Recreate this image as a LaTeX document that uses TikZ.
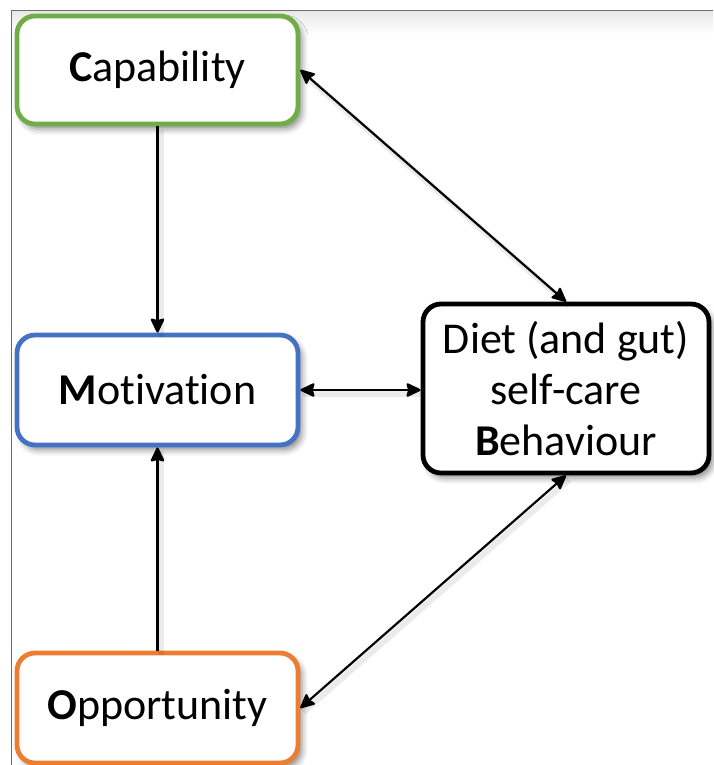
\documentclass[tikz,border=0pt]{standalone}
\usepackage{fontspec}
\setmainfont{Carlito}[Ligatures=NoCommon]
\usetikzlibrary{arrows.meta,shadows.blur}
\definecolor{capgreen}{HTML}{70AD47}
\definecolor{motblue}{HTML}{4472C4}
\definecolor{opporange}{HTML}{ED7D31}
\definecolor{framegray}{HTML}{6E6E6E}
\begin{document}
\begin{tikzpicture}[x=0.5pt,y=-0.5pt,
  box/.style={draw, line width=2.4pt, rounded corners=9pt, fill=white,
    minimum width=140.5pt, minimum height=55pt, inner sep=0pt, align=center,
    font=\fontsize{22}{25.5}\selectfont,
    blur shadow={shadow xshift=2pt, shadow yshift=-2.5pt,
      shadow blur radius=3pt, shadow opacity=45}},
  conn/.style={line width=1.1pt,
    >={Stealth[length=8pt,width=7.5pt,inset=1pt,round=false]}},
  oneway/.style={conn, ->},
  twoway/.style={conn, <->},
  connshadow/.style={draw=black, draw opacity=0.08, line width=3pt},
]
\useasboundingbox (0,0) rectangle (713,765);

% outer frame with a soft shade under its top edge
\shade[top color=black!9, bottom color=white] (12,11) rectangle (713,34);
\draw[framegray, line width=0.8pt] (11.5,765) -- (11.5,10.5) -- (713,10.5);

% COM-B components
\node[box, draw=capgreen, minimum height=54pt] (cap) at (157.5,70) {\textbf{C}apability};
\node[box, draw=motblue] (mot) at (157.5,390) {\textbf{M}otivation};
\node[box, draw=opporange] (opp) at (157.5,708) {\textbf{O}pportunity};
\node[box, draw=black, minimum width=143pt, minimum height=84.5pt] (beh) at (566,388.5)
  {Diet (and gut)\\self-care\\\textbf{B}ehaviour};

% soft shadows under the links
\begin{scope}[transform canvas={shift={(1.5pt,-2pt)}}]
  \draw[connshadow] (cap.south) -- (mot.north);
  \draw[connshadow] (opp.north) -- (mot.south);
  \draw[connshadow] (mot.east) -- (mot.east -| beh.west);
  \draw[connshadow] (cap.east) -- (beh.north);
  \draw[connshadow] (opp.east) -- (beh.south);
\end{scope}

% links
\draw[oneway] (cap.south) -- (mot.north);
\draw[oneway] (opp.north) -- (mot.south);
\draw[twoway] (mot.east) -- (mot.east -| beh.west);
\draw[twoway] (cap.east) -- (beh.north);
\draw[twoway] (opp.east) -- (beh.south);
\end{tikzpicture}
\end{document}
